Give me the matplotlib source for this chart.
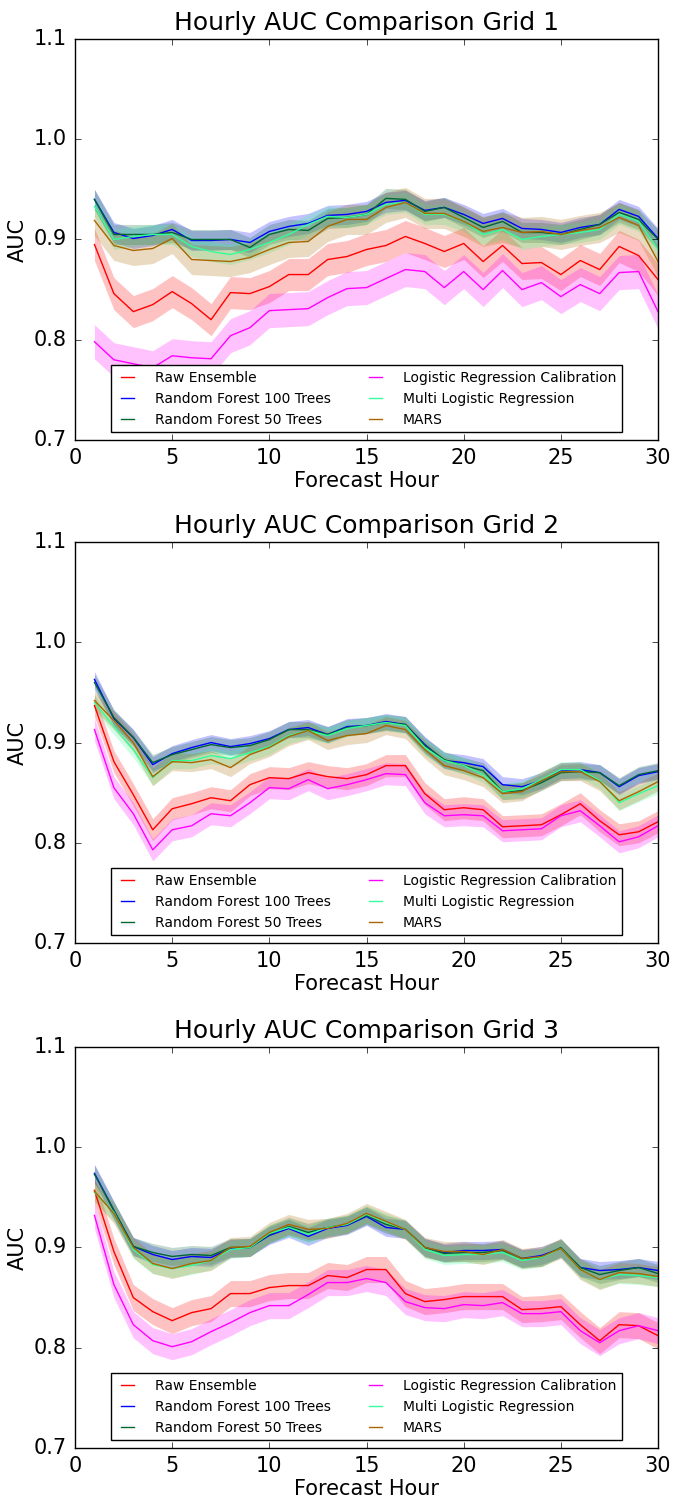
import numpy as np
import matplotlib
matplotlib.use("Agg")
import matplotlib.pyplot as plt

hours = list(range(1, 31))

# Grid 1
raw_g1 = [0.895, 0.846, 0.828, 0.835, 0.848, 0.836, 0.820, 0.847, 0.846, 0.853,
          0.865, 0.865, 0.880, 0.883, 0.890, 0.894, 0.903, 0.896, 0.888, 0.896,
          0.878, 0.894, 0.876, 0.877, 0.865, 0.879, 0.870, 0.893, 0.884, 0.860]
rf100_g1 = [0.940, 0.907, 0.901, 0.904, 0.910, 0.899, 0.899, 0.900, 0.897, 0.908,
            0.913, 0.916, 0.924, 0.925, 0.928, 0.937, 0.939, 0.929, 0.932, 0.925,
            0.916, 0.921, 0.911, 0.910, 0.907, 0.912, 0.915, 0.930, 0.923, 0.901]
rf50_g1 = [0.940, 0.905, 0.905, 0.905, 0.907, 0.900, 0.900, 0.900, 0.892, 0.905,
           0.910, 0.909, 0.921, 0.922, 0.925, 0.941, 0.940, 0.928, 0.932, 0.922,
           0.912, 0.918, 0.907, 0.907, 0.905, 0.910, 0.915, 0.927, 0.920, 0.900]
lrc_g1 = [0.798, 0.780, 0.776, 0.772, 0.784, 0.782, 0.781, 0.804, 0.812, 0.829,
          0.830, 0.831, 0.842, 0.851, 0.852, 0.861, 0.870, 0.868, 0.852, 0.868,
          0.850, 0.869, 0.850, 0.857, 0.843, 0.855, 0.846, 0.867, 0.868, 0.828]
mlr_g1 = [0.933, 0.900, 0.903, 0.905, 0.905, 0.893, 0.888, 0.885, 0.890, 0.897,
          0.905, 0.915, 0.923, 0.922, 0.925, 0.935, 0.937, 0.925, 0.925, 0.918,
          0.905, 0.910, 0.900, 0.903, 0.905, 0.907, 0.910, 0.925, 0.918, 0.890]
mars_g1 = [0.919, 0.894, 0.889, 0.891, 0.901, 0.880, 0.879, 0.878, 0.882, 0.890,
           0.897, 0.898, 0.913, 0.920, 0.920, 0.932, 0.937, 0.926, 0.926, 0.918,
           0.908, 0.912, 0.907, 0.908, 0.905, 0.909, 0.912, 0.922, 0.914, 0.878]
err_g1 = [0.016, 0.010, 0.010, 0.017, 0.010, 0.015]

# Grid 2
raw_g2 = [0.937, 0.881, 0.848, 0.813, 0.834, 0.839, 0.845, 0.842, 0.858, 0.865,
          0.864, 0.870, 0.866, 0.864, 0.868, 0.877, 0.877, 0.849, 0.833, 0.835,
          0.833, 0.816, 0.817, 0.818, 0.828, 0.839, 0.822, 0.808, 0.811, 0.821]
rf100_g2 = [0.963, 0.924, 0.905, 0.878, 0.889, 0.895, 0.900, 0.896, 0.899, 0.904,
            0.913, 0.915, 0.908, 0.916, 0.917, 0.921, 0.918, 0.898, 0.882, 0.880,
            0.876, 0.858, 0.856, 0.862, 0.872, 0.873, 0.870, 0.856, 0.867, 0.871]
rf50_g2 = [0.960, 0.925, 0.905, 0.880, 0.888, 0.893, 0.898, 0.895, 0.897, 0.903,
           0.913, 0.913, 0.908, 0.915, 0.917, 0.920, 0.918, 0.897, 0.883, 0.877,
           0.872, 0.851, 0.852, 0.860, 0.870, 0.871, 0.870, 0.857, 0.868, 0.872]
lrc_g2 = [0.913, 0.855, 0.829, 0.793, 0.813, 0.817, 0.829, 0.827, 0.840, 0.855,
          0.854, 0.863, 0.854, 0.858, 0.863, 0.869, 0.868, 0.840, 0.827, 0.828,
          0.827, 0.812, 0.813, 0.814, 0.827, 0.832, 0.817, 0.801, 0.806, 0.817]
mlr_g2 = [0.940, 0.916, 0.893, 0.865, 0.882, 0.882, 0.887, 0.884, 0.890, 0.896,
          0.907, 0.912, 0.907, 0.914, 0.917, 0.920, 0.917, 0.895, 0.882, 0.877,
          0.868, 0.851, 0.854, 0.863, 0.873, 0.873, 0.862, 0.840, 0.849, 0.857]
mars_g2 = [0.942, 0.922, 0.900, 0.866, 0.881, 0.880, 0.883, 0.875, 0.888, 0.895,
           0.906, 0.912, 0.902, 0.907, 0.909, 0.917, 0.913, 0.893, 0.877, 0.872,
           0.865, 0.849, 0.851, 0.862, 0.871, 0.871, 0.861, 0.842, 0.851, 0.861]
err_g2 = [0.011, 0.008, 0.008, 0.011, 0.008, 0.009]

# Grid 3
raw_g3 = [0.957, 0.896, 0.850, 0.836, 0.827, 0.835, 0.839, 0.854, 0.854, 0.860,
          0.862, 0.862, 0.872, 0.870, 0.878, 0.878, 0.854, 0.846, 0.848, 0.851,
          0.851, 0.851, 0.838, 0.839, 0.841, 0.823, 0.807, 0.823, 0.822, 0.812]
rf100_g3 = [0.974, 0.937, 0.901, 0.893, 0.888, 0.891, 0.890, 0.899, 0.900, 0.912,
            0.919, 0.911, 0.919, 0.922, 0.931, 0.920, 0.918, 0.900, 0.895, 0.897,
            0.897, 0.898, 0.889, 0.892, 0.899, 0.880, 0.877, 0.878, 0.880, 0.877]
rf50_g3 = [0.973, 0.937, 0.901, 0.895, 0.891, 0.893, 0.892, 0.900, 0.900, 0.913,
           0.921, 0.915, 0.920, 0.923, 0.932, 0.923, 0.918, 0.900, 0.894, 0.895,
           0.895, 0.897, 0.889, 0.890, 0.900, 0.880, 0.873, 0.877, 0.880, 0.874]
lrc_g3 = [0.932, 0.863, 0.823, 0.807, 0.801, 0.806, 0.816, 0.825, 0.835, 0.842,
          0.842, 0.853, 0.865, 0.865, 0.869, 0.865, 0.846, 0.840, 0.839, 0.843,
          0.842, 0.845, 0.834, 0.834, 0.836, 0.817, 0.805, 0.817, 0.822, 0.817]
mlr_g3 = [0.955, 0.935, 0.898, 0.883, 0.879, 0.882, 0.887, 0.898, 0.900, 0.914,
          0.920, 0.913, 0.920, 0.923, 0.933, 0.925, 0.918, 0.898, 0.892, 0.893,
          0.893, 0.895, 0.887, 0.890, 0.899, 0.878, 0.868, 0.873, 0.872, 0.870]
mars_g3 = [0.956, 0.934, 0.900, 0.884, 0.879, 0.884, 0.887, 0.900, 0.901, 0.915,
           0.923, 0.918, 0.919, 0.924, 0.934, 0.926, 0.918, 0.900, 0.896, 0.896,
           0.893, 0.898, 0.889, 0.891, 0.899, 0.878, 0.868, 0.875, 0.874, 0.871]
err_g3 = [0.013, 0.009, 0.009, 0.013, 0.009, 0.010]

labels = ["Raw Ensemble", "Random Forest 100 Trees", "Random Forest 50 Trees",
          "Logistic Regression Calibration", "Multi Logistic Regression", "MARS"]
colors = ["#FF0000", "#0000FF", "#006633", "#FF00FF", "#33FF99", "#AA6600"]

grids = [([raw_g1, rf100_g1, rf50_g1, lrc_g1, mlr_g1, mars_g1], err_g1),
         ([raw_g2, rf100_g2, rf50_g2, lrc_g2, mlr_g2, mars_g2], err_g2),
         ([raw_g3, rf100_g3, rf50_g3, lrc_g3, mlr_g3, mars_g3], err_g3)]

plt.style.use("classic")
plt.rcParams["font.family"] = "DejaVu Sans"

fig = plt.figure(figsize=(6.74, 15.0), dpi=100, facecolor="white")
bottoms = [0.7067, 0.3713, 0.0347]

for g, (series, errs) in enumerate(grids):
    ax = fig.add_axes([0.1113, bottoms[g], 0.865, 0.2673])
    for vals, e, lab, c in zip(series, errs, labels, colors):
        v = np.array(vals)
        ax.fill_between(hours, v - e, v + e, color=c, alpha=0.24, linewidth=0)
        ax.plot(hours, v, color=c, lw=1.0, label=lab)
    ax.set_xlim(0, 30)
    ax.set_ylim(0.7, 1.1)
    ax.set_yticks([0.7, 0.8, 0.9, 1.0, 1.1])
    ax.set_xticks([0, 5, 10, 15, 20, 25, 30])
    ax.tick_params(labelsize=15, pad=6)
    ax.set_xlabel("Forecast Hour", fontsize=15, labelpad=2)
    ax.set_ylabel("AUC", fontsize=15, labelpad=4)
    ax.set_title("Hourly AUC Comparison Grid %d" % (g + 1), fontsize=18, y=1.005)
    ax.legend(loc="lower center", ncol=2, fontsize=10, handlelength=1.5,
              handletextpad=1.2, borderaxespad=0.55, columnspacing=2.5,
              labelspacing=0.5, borderpad=0.4, fancybox=False, framealpha=1)

fig.savefig("out.png", dpi=100, facecolor="white")
